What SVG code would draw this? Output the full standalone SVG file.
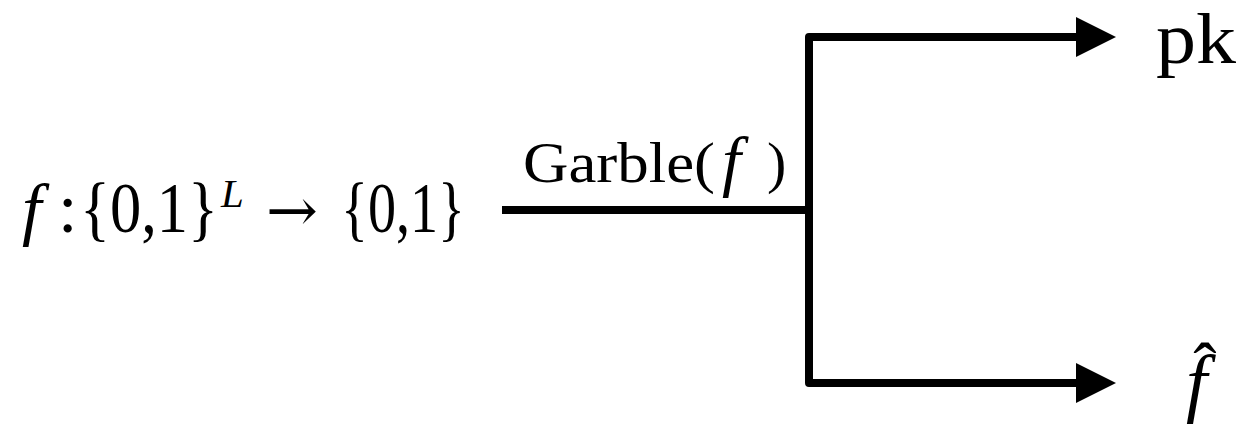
<svg xmlns="http://www.w3.org/2000/svg" width="1247" height="426" viewBox="0 0 1247 426">
<style>
.t{font-family:"Liberation Serif","Times New Roman",serif;fill:#000}
.i{font-style:italic}
.c{fill:none;stroke:#000;stroke-width:8;stroke-linejoin:round}
</style>
<defs>
<marker id="ah" markerUnits="userSpaceOnUse" markerWidth="42" markerHeight="42" refX="20" refY="20" orient="auto">
<path d="M0,0 L40,20 L0,40 z" fill="#000"/>
</marker>
</defs>
<rect width="1247" height="426" fill="#fff"/>
<g id="connectors">
<path class="c" d="M502 210 H809"/>
<path class="c" d="M809 210 V37 H1096" marker-end="url(#ah)"/>
<path class="c" d="M809 210 V383 H1096" marker-end="url(#ah)"/>
</g>
<g id="node-input">
<text class="t i" x="22" y="232" font-size="70">f</text>
<text class="t" x="58" y="232" font-size="70">:</text>
<text class="t" x="80" y="232" font-size="72"><tspan textLength="138" lengthAdjust="spacingAndGlyphs">{0,1}</tspan><tspan class="i" x="221" y="207" font-size="41">L</tspan></text>
<text x="266" y="231" font-size="60" font-family="'DejaVu Serif',serif" textLength="52" lengthAdjust="spacingAndGlyphs">→</text>
<text class="t" x="341" y="232" font-size="72" textLength="124" lengthAdjust="spacingAndGlyphs">{0,1}</text>
</g>
<g id="label-garble">
<text class="t" x="523" y="182" font-size="58" textLength="192" lengthAdjust="spacingAndGlyphs">Garble(</text>
<text class="t i" x="722" y="184" font-size="68">f</text>
<text class="t" x="767" y="182" font-size="58">)</text>
</g>
<g id="node-pk">
<text class="t" x="1156" y="63" font-size="72" textLength="80" lengthAdjust="spacingAndGlyphs">pk</text>
</g>
<g id="node-fhat">
<text class="t i" x="1186" y="408" font-size="76">f<tspan class="t" font-style="normal" x="1205" y="391" font-size="70" text-anchor="middle">ˆ</tspan></text>
</g>
</svg>
